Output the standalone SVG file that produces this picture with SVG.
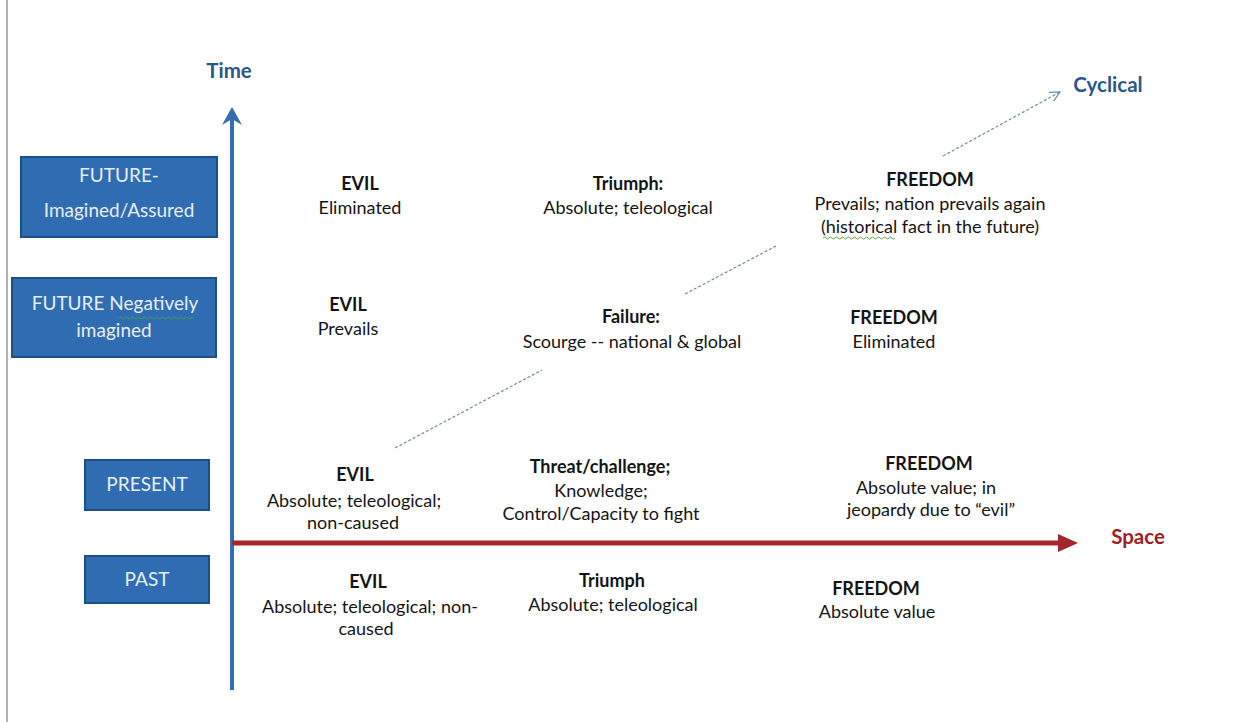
<svg xmlns="http://www.w3.org/2000/svg" width="1254" height="722" viewBox="0 0 1254 722">
<style>
  text { font-family: Lato, "Liberation Sans", sans-serif; font-size: 18px; fill: #141414; text-anchor: middle; }
  .b { font-weight: bold; }
  .box rect { fill: #2F6CB1; stroke: #1E4E86; stroke-width: 2; }
  .box text { fill: #E6EEF8; font-size: 19px; }
  .axislbl { font-weight: bold; fill: #2A5889; font-size: 20.5px; }
  .space { font-weight: bold; fill: #9C1E24; font-size: 20.5px; }
  .dash { stroke: #6C8BAA; stroke-width: 1.2; stroke-dasharray: 3 2; fill: none; }
  .wavy { fill: none; stroke-width: 1; }
</style>
<defs>
  <marker id="open" viewBox="0 0 12 12" refX="11" refY="6" markerWidth="12" markerHeight="12" markerUnits="userSpaceOnUse" orient="auto">
    <path d="M1,1 L11,6 L1,11" fill="none" stroke="#6C8BAA" stroke-width="1.2"/>
  </marker>
</defs>
<rect x="0" y="0" width="1254" height="722" fill="#ffffff"/>
<line x1="7" y1="0" x2="7" y2="722" stroke="#9a9a9a" stroke-width="1.5"/>

<g id="connectors">
  <line x1="232" y1="690" x2="232" y2="118" stroke="#336FB0" stroke-width="4"/>
  <path d="M232,107 L242,125 L232,119 L222,125 Z" fill="#336FB0"/>
  <line x1="232" y1="543" x2="1062" y2="543" stroke="#A3282C" stroke-width="5"/>
  <path d="M1078,543 L1058,534 L1058,552 Z" fill="#A3282C"/>
  <line class="dash" x1="395" y1="448" x2="542" y2="370"/>
  <line class="dash" x1="685" y1="294" x2="776" y2="246"/>
  <line class="dash" x1="943" y1="156" x2="1060" y2="92" marker-end="url(#open)"/>
</g>

<g id="axis-labels">
  <text class="axislbl" x="229" y="78">Time</text>
  <text class="axislbl" x="1108" y="92">Cyclical</text>
  <text class="space" x="1138" y="544">Space</text>
</g>

<g id="box-future-assured" class="box">
  <rect x="21" y="157" width="196" height="80"/>
  <text x="119" y="182">FUTURE-</text>
  <text x="119" y="217">Imagined/Assured</text>
</g>
<g id="box-future-negative" class="box">
  <rect x="12" y="278" width="204" height="79"/>
  <text x="115" y="310">FUTURE Negatively</text>
  <text x="114" y="337">imagined</text>
  <path class="wavy" stroke="#4E9A5E" d="M119,318 q1.5,-2 3,0 t3,0 t3,0 t3,0 t3,0 t3,0 t3,0 t3,0 t3,0 t3,0 t3,0 t3,0 t3,0 t3,0 t3,0 t3,0 t3,0 t3,0 t3,0 t3,0 t3,0 t3,0 t3,0 t3,0 t3,0"/>
</g>
<g id="box-present" class="box">
  <rect x="85" y="460" width="124" height="50"/>
  <text x="147" y="491">PRESENT</text>
</g>
<g id="box-past" class="box">
  <rect x="85" y="556" width="124" height="47"/>
  <text x="147" y="586">PAST</text>
</g>

<g id="evil-future-assured">
  <text class="b" x="360" y="190">EVIL</text>
  <text x="360" y="214">Eliminated</text>
</g>
<g id="triumph-future">
  <text class="b" x="628" y="190">Triumph:</text>
  <text x="628" y="214">Absolute; teleological</text>
</g>
<g id="freedom-future-assured">
  <text class="b" x="930" y="186">FREEDOM</text>
  <text x="930" y="210">Prevails; nation prevails again</text>
  <text x="930" y="233">(historical fact in the future)</text>
  <path class="wavy" stroke="#5FA04A" d="M823,238 q1.5,-2 3,0 t3,0 t3,0 t3,0 t3,0 t3,0 t3,0 t3,0 t3,0 t3,0 t3,0 t3,0 t3,0 t3,0 t3,0 t3,0 t3,0 t3,0 t3,0 t3,0 t3,0 t3,0 t3,0 t3,0"/>
</g>

<g id="evil-future-negative">
  <text class="b" x="348" y="311">EVIL</text>
  <text x="348" y="335">Prevails</text>
</g>
<g id="failure">
  <text class="b" x="631" y="323">Failure:</text>
  <text x="632" y="348">Scourge -- national &amp; global</text>
</g>
<g id="freedom-eliminated">
  <text class="b" x="894" y="324">FREEDOM</text>
  <text x="894" y="348">Eliminated</text>
</g>

<g id="evil-present">
  <text class="b" x="355" y="481">EVIL</text>
  <text x="354" y="507">Absolute; teleological;</text>
  <text x="353" y="529">non-caused</text>
</g>
<g id="threat">
  <text class="b" x="600" y="473">Threat/challenge;</text>
  <text x="601" y="497">Knowledge;</text>
  <text x="601" y="520">Control/Capacity to fight</text>
</g>
<g id="freedom-present">
  <text class="b" x="929" y="470">FREEDOM</text>
  <text x="926" y="494">Absolute value; in</text>
  <text x="931" y="516">jeopardy due to “evil”</text>
</g>

<g id="evil-past">
  <text class="b" x="368" y="588">EVIL</text>
  <text x="370" y="613">Absolute; teleological; non-</text>
  <text x="366" y="635">caused</text>
</g>
<g id="triumph-past">
  <text class="b" x="612" y="587">Triumph</text>
  <text x="613" y="611">Absolute; teleological</text>
</g>
<g id="freedom-past">
  <text class="b" x="876" y="595">FREEDOM</text>
  <text x="877" y="618">Absolute value</text>
</g>
</svg>
